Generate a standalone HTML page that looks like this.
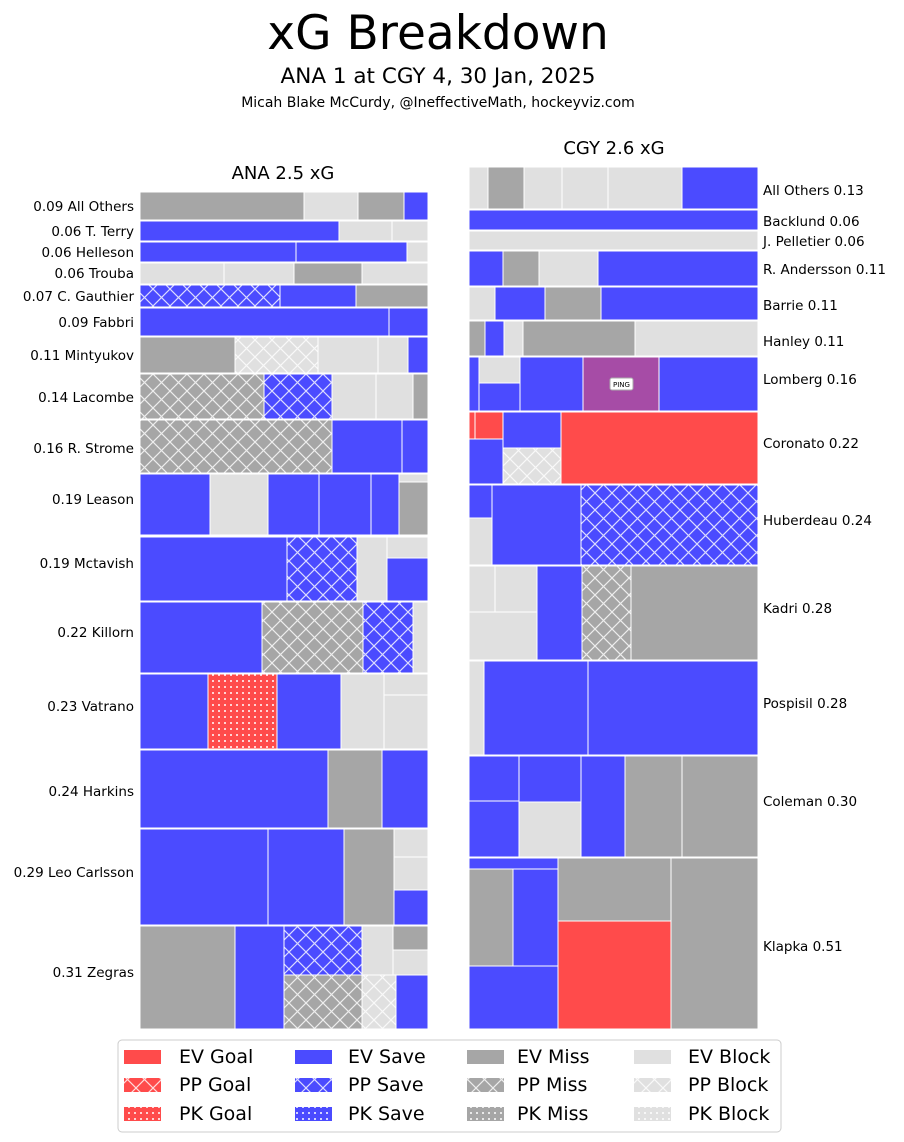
<!DOCTYPE html>
<html><head><meta charset="utf-8"><style>body{margin:0;background:#fff}svg{display:block}text{font-family:"DejaVu Sans","Liberation Sans",sans-serif}</style></head><body>
<svg width="904" height="1142" viewBox="0 0 904 1142" xmlns="http://www.w3.org/2000/svg">
<defs>
<pattern id="hx" width="17" height="17" patternUnits="userSpaceOnUse"><path d="M0 0L17 17M17 0L0 17" stroke="#fff" stroke-opacity="0.8" stroke-width="1.2"/></pattern>
<pattern id="dt" width="6" height="6" patternUnits="userSpaceOnUse"><circle cx="3" cy="3" r="1" fill="#fff"/></pattern>
</defs>
<text x="438" y="49" font-size="47" text-anchor="middle">xG Breakdown</text>
<text x="438" y="83" font-size="21.5" text-anchor="middle">ANA 1 at CGY 4, 30 Jan, 2025</text>
<text x="438" y="107" font-size="14" text-anchor="middle">Micah Blake McCurdy, @IneffectiveMath, hockeyviz.com</text>
<text x="283" y="179" font-size="18" text-anchor="middle">ANA 2.5 xG</text>
<text x="614" y="154" font-size="18" text-anchor="middle">CGY 2.6 xG</text>
<g stroke="#fff" stroke-width="1" id="cells"></g>
<g font-size="13.5" id="labs"></g>
<g font-size="18">
<rect x="118" y="1040" width="663" height="92" rx="4" fill="#fff" stroke="#ccc"/>
</g>
<g id="leg"></g>
</svg>
<script>
var C={b:"#4b4bff",g:"#a6a6a6",l:"#e0e0e0",r:"#ff4b4b",p:"#a64ca6"};
var cells=[
[140,192,304,220,'g'],[304,192,358,220,'l'],[358,192,404,220,'g'],[404,192,428,220,'b'],
[140,221,339,241,'b'],[339,221,392,241,'l'],[392,221,428,241,'l'],
[140,242,296,262,'b'],[296,242,407,262,'b'],[407,242,428,262,'l'],
[140,263,224,284,'l'],[224,263,294,284,'l'],[294,263,362,284,'g'],[362,263,428,284,'l'],
[140,285,280,307,'b','hx'],[280,285,356,307,'b'],[356,285,428,307,'g'],
[140,308,389,336,'b'],[389,308,428,336,'b'],
[140,337,235,373,'g'],[235,337,318,373,'l','hx'],[318,337,378,373,'l'],[378,337,408,373,'l'],[408,337,428,373,'b'],
[140,374,264,419,'g','hx'],[264,374,332,419,'b','hx'],[332,374,376,419,'l'],[376,374,413,419,'l'],[413,374,428,419,'g'],
[140,420,332,473,'g','hx'],[332,420,402,473,'b'],[402,420,428,473,'b'],
[140,474,210,535,'b'],[210,474,268,535,'l'],[268,474,319,535,'b'],[319,474,371,535,'b'],[371,474,399,535,'b'],[399,474,428,482,'l'],[399,482,428,535,'g'],
[140,537,287,601,'b'],[287,537,357,601,'b','hx'],[357,537,387,601,'l'],[387,537,428,558,'l'],[387,558,428,601,'b'],
[140,602,262,673,'b'],[262,602,363,673,'g','hx'],[363,602,413,673,'b','hx'],[413,602,428,673,'l'],
[140,674,208,749,'b'],[208,674,277,749,'r','dt'],[277,674,341,749,'b'],[341,674,384,749,'l'],[384,674,428,695,'l'],[384,695,428,749,'l'],
[140,750,328,828,'b'],[328,750,382,828,'g'],[382,750,428,828,'b'],
[140,829,268,925,'b'],[268,829,344,925,'b'],[344,829,394,925,'g'],[394,829,428,857,'l'],[394,857,428,890,'l'],[394,890,428,925,'b'],
[140,926,235,1029,'g'],[235,926,284,1029,'b'],[284,926,362,975,'b','hx'],[284,975,362,1029,'g','hx'],[362,926,393,975,'l'],[362,975,396,1029,'l','hx'],[393,926,428,950,'g'],[393,950,428,975,'l'],[396,975,428,1029,'b'],
[469,167,488,209,'l'],[488,167,524,209,'g'],[524,167,562,209,'l'],[562,167,608,209,'l'],[608,167,682,209,'l'],[682,167,758,209,'b'],
[469,210,758,230,'b'],[469,231,758,250,'l'],
[469,251,503,286,'b'],[503,251,539,286,'g'],[539,251,598,286,'l'],[598,251,758,286,'b'],
[469,287,495,320,'l'],[495,287,545,320,'b'],[545,287,601,320,'g'],[601,287,758,320,'b'],
[469,321,485,356,'g'],[485,321,504,356,'b'],[504,321,523,356,'l'],[523,321,635,356,'g'],[635,321,758,356,'l'],
[469,357,479,411,'b'],[479,357,520,383,'l'],[479,383,520,411,'b'],[520,357,583,411,'b'],[583,357,659,411,'p'],[659,357,758,411,'b'],
[469,412,475,439,'r'],[475,412,503,439,'r'],[469,439,503,484,'b'],[503,412,561,448,'b'],[503,448,561,484,'l','hx'],[561,412,758,484,'r'],
[469,485,492,518,'b'],[469,518,492,565,'l'],[492,485,581,565,'b'],[581,485,758,565,'b','hx'],
[469,566,495,612,'l'],[495,566,537,612,'l'],[469,612,537,660,'l'],[537,566,582,660,'b'],[582,566,631,660,'g','hx'],[631,566,758,660,'g'],
[469,661,484,755,'l'],[484,661,588,755,'b'],[588,661,758,755,'b'],
[469,756,519,801,'b'],[469,801,519,857,'b'],[519,756,581,802,'b'],[519,802,581,857,'l'],[581,756,625,857,'b'],[625,756,682,857,'g'],[682,756,758,857,'g'],
[469,858,558,869,'b'],[469,869,513,966,'g'],[513,869,558,966,'b'],[469,966,558,1029,'b'],[558,858,671,921,'g'],[558,921,671,1029,'r'],[671,858,758,1029,'g']
];
var ns="http://www.w3.org/2000/svg",g=document.getElementById('cells');
function R(p,x,y,w,h,f,pat,st){var r=document.createElementNS(ns,'rect');r.setAttribute('x',x);r.setAttribute('y',y);r.setAttribute('width',w);r.setAttribute('height',h);r.setAttribute('fill',f);if(st)r.setAttribute('stroke',st);p.appendChild(r);if(pat){var q=document.createElementNS(ns,'rect');q.setAttribute('x',x);q.setAttribute('y',y);q.setAttribute('width',w);q.setAttribute('height',h);q.setAttribute('fill','url(#'+pat+')');q.setAttribute('stroke','none');p.appendChild(q);}}
cells.forEach(function(c){R(g,c[0],c[1],c[2]-c[0],c[3]-c[1],C[c[4]],c[5]);});
var lb=document.createElementNS(ns,'rect');lb.setAttribute('x',610);lb.setAttribute('y',378);lb.setAttribute('width',23);lb.setAttribute('height',12);lb.setAttribute('rx',2);lb.setAttribute('fill','#fff');lb.setAttribute('stroke','#aaa');g.appendChild(lb);
var pt=document.createElementNS(ns,'text');pt.setAttribute('x',621.5);pt.setAttribute('y',387);pt.setAttribute('font-size','7');pt.setAttribute('stroke','none');pt.setAttribute('fill','#000');pt.setAttribute('text-anchor','middle');pt.textContent='PING';g.appendChild(pt);
var L=document.getElementById('labs');
function T(x,y,s,a){var t=document.createElementNS(ns,'text');t.setAttribute('x',x);t.setAttribute('y',y);t.setAttribute('text-anchor',a);t.textContent=s;L.appendChild(t);}
[["0.09 All Others",206],["0.06 T. Terry",231],["0.06 Helleson",252],["0.06 Trouba",273],["0.07 C. Gauthier",296],["0.09 Fabbri",322],["0.11 Mintyukov",355],["0.14 Lacombe",397],["0.16 R. Strome",448],["0.19 Leason",499],["0.19 Mctavish",563],["0.22 Killorn",632],["0.23 Vatrano",706],["0.24 Harkins",791],["0.29 Leo Carlsson",872],["0.31 Zegras",972]].forEach(function(a){T(134,a[1]+5,a[0],'end');});
[["All Others 0.13",190],["Backlund 0.06",221],["J. Pelletier 0.06",241],["R. Andersson 0.11",269],["Barrie 0.11",305],["Hanley 0.11",341],["Lomberg 0.16",379],["Coronato 0.22",443],["Huberdeau 0.24",520],["Kadri 0.28",608],["Pospisil 0.28",703],["Coleman 0.30",801],["Klapka 0.51",946]].forEach(function(a){T(763,a[1]+5,a[0],'start');});
var lg=document.getElementById('leg');
var cols=[[124,179,'r','Goal'],[295,348,'b','Save'],[467,517,'g','Miss'],[634,688,'l','Block']];
var rows=[['EV',1057,null],['PP',1085,'hx'],['PK',1114,'dt']];
cols.forEach(function(c){rows.forEach(function(r){R(lg,c[0],r[1]-7,37,14,C[c[2]],r[2]);var t=document.createElementNS(ns,'text');t.setAttribute('x',c[1]);t.setAttribute('y',r[1]+6);t.setAttribute('font-size','19');t.textContent=r[0]+' '+c[3];lg.appendChild(t);});});
</script>
</body></html>
